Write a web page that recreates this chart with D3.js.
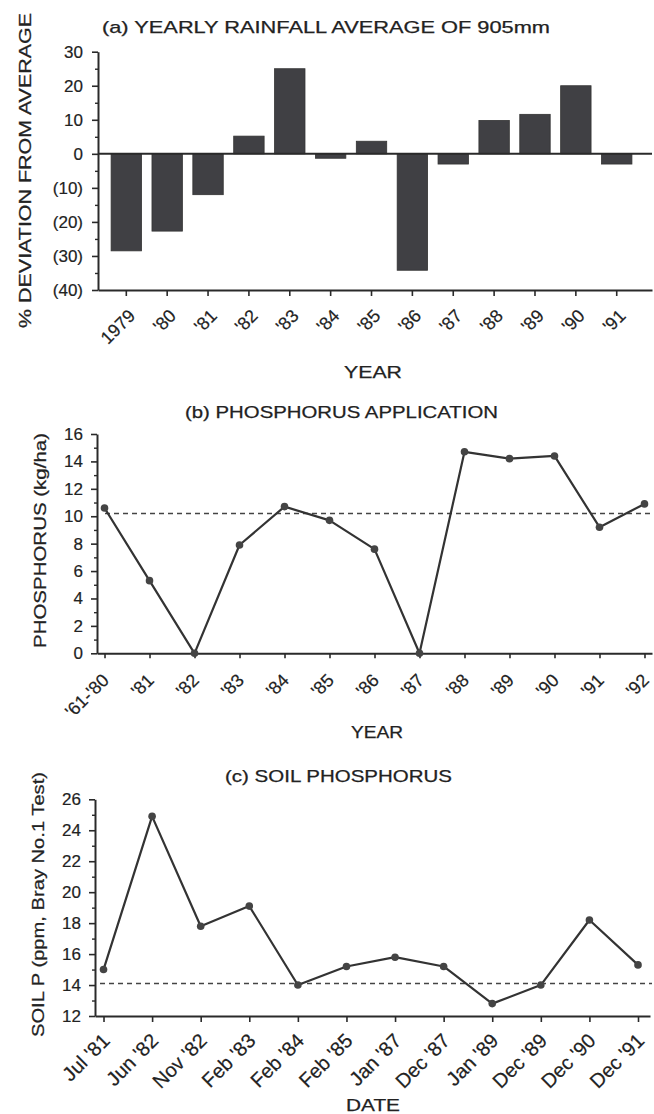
<!DOCTYPE html>
<html>
<head>
<meta charset="utf-8">
<script src="https://cdn.jsdelivr.net/npm/d3@7"></script>
<style>
  html, body { margin: 0; padding: 0; background: #fff; }
  svg { display: block; }
  text { font-family: "Liberation Sans", Arial, Helvetica, sans-serif; fill: #222; }
</style>
</head>
<body>
<script>
// ---------- DATA ----------
const rainYears = ["1979", "'80", "'81", "'82", "'83", "'84", "'85", "'86", "'87", "'88", "'89", "'90", "'91"];
const rainDeviation = [-28.5, -22.7, -12, 5.2, 25, -1.3, 3.7, -34.2, -3, 9.8, 11.6, 20, -3];
const rainTicks = [30, 20, 10, 0, -10, -20, -30, -40];

const phosYears = ["'61-'80", "'81", "'82", "'83", "'84", "'85", "'86", "'87", "'88", "'89", "'90", "'91", "'92"];
const phosApplied = [10.6, 5.3, 0, 7.9, 10.7, 9.7, 7.6, 0, 14.7, 14.2, 14.4, 9.2, 10.9];
const phosAverage = [10.2];
const phosTicks = [0, 2, 4, 6, 8, 10, 12, 14, 16];

const soilDates = ["Jul '81", "Jun '82", "Nov '82", "Feb '83", "Feb '84", "Feb '85", "Jan '87", "Dec '87", "Jan '89", "Dec '89", "Dec '90", "Dec '91"];
const soilP = [15.0, 24.9, 17.8, 19.1, 14.0, 15.2, 15.8, 15.2, 12.8, 14.0, 18.2, 15.3];
const soilAverage = [14.1];
const soilTicks = [12, 14, 16, 18, 20, 22, 24, 26];

// ---------- SETUP ----------
const W = 654, H = 1114;
const svg = d3.select("body").append("svg").attr("width", W).attr("height", H);
svg.append("rect").attr("width", W).attr("height", H).attr("fill", "#fff");

const INK = "#2a2a2a";
const TICKFONT = 17;

function label(txt, x, y, len, size, rotate) {
  const t = svg.append("text")
    .attr("text-anchor", "middle")
    .attr("dominant-baseline", "central")
    .attr("font-size", size)
    .attr("textLength", len)
    .attr("lengthAdjust", "spacingAndGlyphs")
    .attr("stroke", "#222").attr("stroke-width", 0.25)
    .text(txt);
  if (rotate) t.attr("transform", `translate(${x},${y}) rotate(-90)`);
  else t.attr("x", x).attr("y", y);
}

function styleAxis(g) {
  g.selectAll("path.domain").attr("stroke", INK).attr("stroke-width", 2);
  g.selectAll(".tick line").attr("stroke", INK).attr("stroke-width", 1.6);
  g.selectAll(".tick text").attr("fill", INK).attr("font-size", TICKFONT)
    .attr("stroke", "#222").attr("stroke-width", 0.2)
    .attr("font-family", "'Liberation Sans', Arial, sans-serif");
}

function rotatedXLabels(g, size, dx, dy) {
  g.selectAll(".tick text")
    .attr("text-anchor", "end")
    .attr("font-size", size)
    .attr("dy", 0)
    .attr("y", 0)
    .attr("transform", `translate(${dx},${dy}) rotate(-45)`);
}

function minorY(scale, x, values, size) {
  const g = svg.append("g").attr("transform", `translate(${x},0)`)
    .call(d3.axisLeft(scale).tickValues(values).tickSize(size).tickFormat(""));
  g.select("path.domain").remove();
  g.selectAll(".tick line").attr("stroke", INK).attr("stroke-width", 1.4);
}

// ---------- PANEL (a) ----------
{
  const left = 98, right = 652, top = 51.7, bottom = 290;
  const x = d3.scaleBand().domain(rainYears).range([left, right])
    .paddingInner(0.256).paddingOuter(0.406).align(0.395);
  const y = d3.scaleLinear().domain([-40, 30]).range([bottom, top]);

  svg.append("g").selectAll("rect").data(rainDeviation).join("rect")
    .attr("x", (d, i) => x(rainYears[i]))
    .attr("width", x.bandwidth())
    .attr("y", d => y(Math.max(0, d)))
    .attr("height", d => Math.abs(y(d) - y(0)))
    .attr("fill", "#404044")
    .attr("stroke", "#333").attr("stroke-width", 0.8);

  // zero line
  svg.append("line").attr("x1", left).attr("x2", right)
    .attr("y1", y(0)).attr("y2", y(0)).attr("stroke", INK).attr("stroke-width", 2);

  minorY(y, left, d3.range(-35, 30, 10), 3);
  const gy = svg.append("g").attr("transform", `translate(${left},0)`)
    .call(d3.axisLeft(y).tickValues(rainTicks).tickSize(6).tickPadding(9).tickSizeOuter(0)
      .tickFormat(d => d < 0 ? `(${-d})` : `${d}`));
  styleAxis(gy);

  const gx = svg.append("g").attr("transform", `translate(0,${bottom})`)
    .call(d3.axisBottom(x).tickSize(6).tickSizeOuter(0));
  styleAxis(gx);
  rotatedXLabels(gx, 18, 10, 27);

  label("(a) YEARLY RAINFALL AVERAGE OF 905mm", 326, 27, 448, 17);
  label("% DEVIATION FROM AVERAGE", 25, 170.5, 315, 17, true);
  label("YEAR", 373, 372.5, 58, 17);
}

// ---------- PANEL (b) ----------
{
  const left = 97, right = 652, top = 434, bottom = 653.3;
  const x = d3.scalePoint().domain(phosYears).range([left, right]).padding(0.167);
  const y = d3.scaleLinear().domain([0, 16]).range([bottom, top]);

  svg.append("g").selectAll("line").data(phosAverage).join("line")
    .attr("x1", left + 8).attr("x2", right)
    .attr("y1", d => y(d)).attr("y2", d => y(d))
    .attr("stroke", "#444").attr("stroke-width", 1.6).attr("stroke-dasharray", "5,4");

  minorY(y, left, d3.range(1, 16, 2), 3);
  const gy = svg.append("g").attr("transform", `translate(${left},0)`)
    .call(d3.axisLeft(y).tickValues(phosTicks).tickSize(6).tickPadding(8).tickSizeOuter(0));
  styleAxis(gy);

  const gx = svg.append("g").attr("transform", `translate(0,${bottom})`)
    .call(d3.axisBottom(x).tickSize(5).tickSizeOuter(0));
  styleAxis(gx);
  rotatedXLabels(gx, 18, 5, 28);

  const line = d3.line().x((d, i) => x(phosYears[i])).y(d => y(d));
  svg.append("path").datum(phosApplied).attr("d", line)
    .attr("fill", "none").attr("stroke", "#333").attr("stroke-width", 2.2).attr("stroke-linejoin", "round");
  svg.append("g").selectAll("circle").data(phosApplied).join("circle")
    .attr("cx", (d, i) => x(phosYears[i])).attr("cy", d => y(d)).attr("r", 3.8)
    .attr("fill", "#444");

  label("(b) PHOSPHORUS APPLICATION", 341.5, 412, 313, 17);
  label("PHOSPHORUS (kg/ha)", 40.6, 540.5, 215, 17, true);
  label("YEAR", 377, 732.5, 52, 17);
}

// ---------- PANEL (c) ----------
{
  const left = 95, right = 650, top = 799.3, bottom = 1016;
  const x = d3.scalePoint().domain(soilDates).range([left, right]).padding(0.211).align(0.415);
  const y = d3.scaleLinear().domain([12, 26]).range([bottom, top]);

  svg.append("g").selectAll("line").data(soilAverage).join("line")
    .attr("x1", left + 5).attr("x2", right + 2)
    .attr("y1", d => y(d)).attr("y2", d => y(d))
    .attr("stroke", "#444").attr("stroke-width", 1.6).attr("stroke-dasharray", "5,4");

  minorY(y, left, d3.range(13, 26, 2), 3);
  const gy = svg.append("g").attr("transform", `translate(${left},0)`)
    .call(d3.axisLeft(y).tickValues(soilTicks).tickSize(6).tickPadding(8).tickSizeOuter(0));
  styleAxis(gy);

  const gx = svg.append("g").attr("transform", `translate(0,${bottom})`)
    .call(d3.axisBottom(x).tickSize(6).tickSizeOuter(0));
  styleAxis(gx);
  rotatedXLabels(gx, 20, 7, 26);

  const line = d3.line().x((d, i) => x(soilDates[i])).y(d => y(d));
  svg.append("path").datum(soilP).attr("d", line)
    .attr("fill", "none").attr("stroke", "#333").attr("stroke-width", 2.2).attr("stroke-linejoin", "round");
  svg.append("g").selectAll("circle").data(soilP).join("circle")
    .attr("cx", (d, i) => x(soilDates[i])).attr("cy", d => y(d)).attr("r", 3.8)
    .attr("fill", "#444");

  label("(c) SOIL PHOSPHORUS", 338.5, 776.5, 227, 17);
  label("SOIL P (ppm, Bray No.1 Test)", 38.5, 904.5, 265, 17, true);
  label("DATE", 373, 1105, 54, 17);
}
</script>
</body>
</html>
